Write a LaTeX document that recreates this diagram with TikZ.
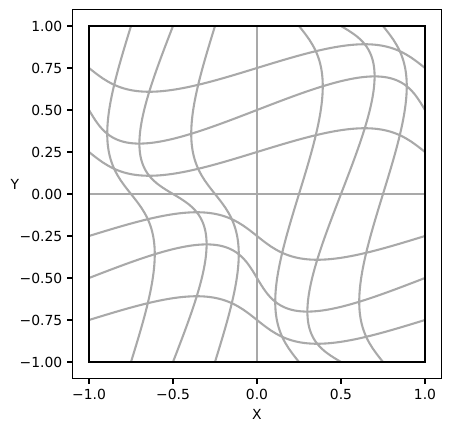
\documentclass[tikz,border=0pt]{standalone}
\usepackage{fontspec}
\setmainfont{DejaVu Sans}
\definecolor{curvegray}{RGB}{169,169,169}
\begin{document}
\begin{tikzpicture}[x=120.96pt,y=120.96pt,
  gridline/.style={curvegray, line width=1.5pt},
  boxline/.style={black, line width=1.5pt},
  frame/.style={black, line width=0.8pt},
  tickmark/.style={black, line width=0.8pt},
  ticklabel/.style={font=\fontsize{10}{12}\selectfont, inner sep=0pt},
  axlabel/.style={font=\fontsize{10}{12}\selectfont, inner sep=0pt}]
\useasboundingbox (-1.52976,-1.41667) rectangle (1.15476,1.15476);
% deformed grid
\foreach \c in {-0.75,-0.5,-0.25,0,0.25,0.5,0.75} {
  \draw[gridline] plot[domain=-1:1, samples=121, smooth, variable=\t]
    ({\t+0.2*sin(180*\t)*sin(180*\c)}, {\c+0.2*sin(180*\t)*sin(180*\c)});
  \draw[gridline] plot[domain=-1:1, samples=121, smooth, variable=\t]
    ({\c+0.2*sin(180*\c)*sin(180*\t)}, {\t+0.2*sin(180*\c)*sin(180*\t)});
}
% boundary square
\draw[boxline] (-1,-1) rectangle (1,1);
% axes frame
\draw[frame] (-1.1,-1.1) rectangle (1.1,1.1);
% x ticks
\foreach \v/\l [count=\i] in {-1/−1.0, -0.5/−0.5, 0/0.0, 0.5/0.5, 1/1.0} {
  \draw[tickmark] (\v,-1.1) -- ++(0,-3.5pt);
  \node[ticklabel, anchor=north] (xt\i) at ([yshift=-7pt]\v,-1.1) {\l};
}
% y ticks
\foreach \v/\l [count=\i] in {1/1.00, 0.75/0.75, 0.5/0.50, 0.25/0.25, 0/0.00, -0.25/−0.25, -0.5/−0.50, -0.75/−0.75, -1/−1.00} {
  \draw[tickmark] (-1.1,\v) -- ++(-3.5pt,0);
  \node[ticklabel, anchor=east] (yt\i) at ([xshift=-7pt]-1.1,\v) {\l};
}
\node[axlabel] (xlab) at (0,-1.3125) {X};
\node[axlabel] (ylab) at (-1.4405,0.056) {Y};
\end{tikzpicture}
\end{document}
